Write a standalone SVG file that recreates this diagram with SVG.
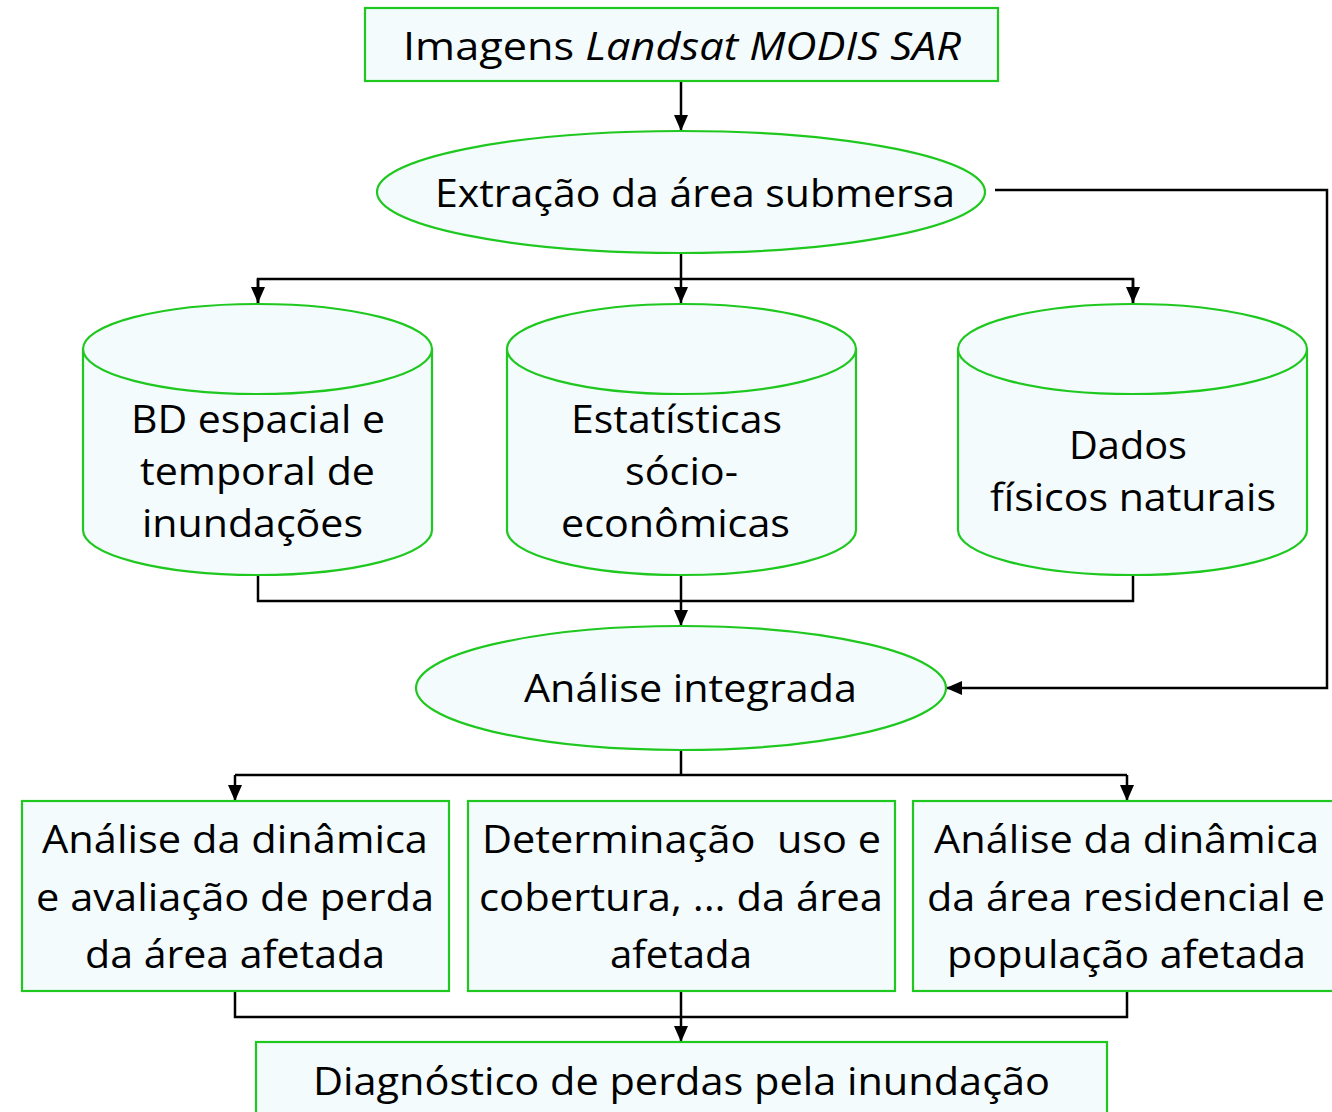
<svg xmlns="http://www.w3.org/2000/svg" width="1332" height="1112" viewBox="0 0 1332 1112">
<style>
.n{fill:#f3fbfd;stroke:#1ec81e;stroke-width:2.2}
.t{font-family:"Open Sans","Noto Sans","Liberation Sans",sans-serif;font-size:39px;fill:#000;text-anchor:middle}
.c{fill:none;stroke:#000;stroke-width:2.5}
</style>
<defs>
<marker id="ah" markerUnits="userSpaceOnUse" markerWidth="16" markerHeight="16" viewBox="0 0 16 16" refX="16" refY="8" orient="auto">
<path d="M0,1 L16,8 L0,15 Z" fill="#000"/>
</marker>
</defs>
<rect width="1332" height="1112" fill="#fff"/>
<g id="connectors">
<path class="c" d="M681,81 V131" marker-end="url(#ah)"/>
<path class="c" d="M995,190 H1327 V688 H946" marker-end="url(#ah)"/>
<path class="c" d="M681,253 V279"/>
<path class="c" d="M258,303 V279 H1133 V303" />
<path class="c" d="M258,279 V303" marker-end="url(#ah)"/>
<path class="c" d="M681,279 V303" marker-end="url(#ah)"/>
<path class="c" d="M1133,279 V303" marker-end="url(#ah)"/>
<path class="c" d="M258,575 V601 H1133 V575"/>
<path class="c" d="M681,575 V626" marker-end="url(#ah)"/>
<path class="c" d="M681,750 V775"/>
<path class="c" d="M235,775 H1127"/>
<path class="c" d="M235,775 V801" marker-end="url(#ah)"/>
<path class="c" d="M1127,775 V801" marker-end="url(#ah)"/>
<path class="c" d="M235,991 V1017 H1127 V991"/>
<path class="c" d="M681,991 V1042" marker-end="url(#ah)"/>
</g>
<g id="imagens">
<rect class="n" x="365" y="8" width="633" height="73"/>
<text class="t" x="682" y="60" textLength="558" lengthAdjust="spacingAndGlyphs">Imagens <tspan font-style="italic">Landsat MODIS SAR</tspan></text>
</g>
<g id="extracao">
<ellipse class="n" cx="681" cy="192" rx="304" ry="61"/>
<text class="t" x="695" y="207" textLength="520" lengthAdjust="spacingAndGlyphs">Extração da área submersa</text>
</g>
<g id="bd">
<path class="n" d="M83,349 V530 A174.5,45 0 0 0 432,530 V349 Z"/>
<ellipse class="n" cx="257.5" cy="349" rx="174.5" ry="45"/>
<text class="t" x="258" y="433" textLength="254" lengthAdjust="spacingAndGlyphs">BD espacial e</text>
<text class="t" x="257.5" y="485" textLength="235" lengthAdjust="spacingAndGlyphs">temporal de</text>
<text class="t" x="252.5" y="537" textLength="221" lengthAdjust="spacingAndGlyphs">inundações</text>
</g>
<g id="estatisticas">
<path class="n" d="M507,349 V530 A174.5,45 0 0 0 856,530 V349 Z"/>
<ellipse class="n" cx="681.5" cy="349" rx="174.5" ry="45"/>
<text class="t" x="676.5" y="433" textLength="211" lengthAdjust="spacingAndGlyphs">Estatísticas</text>
<text class="t" x="681.5" y="485" textLength="113" lengthAdjust="spacingAndGlyphs">sócio-</text>
<text class="t" x="675.5" y="537" textLength="229" lengthAdjust="spacingAndGlyphs">econômicas</text>
</g>
<g id="dados">
<path class="n" d="M958,349 V530 A174.5,45 0 0 0 1307,530 V349 Z"/>
<ellipse class="n" cx="1132.5" cy="349" rx="174.5" ry="45"/>
<text class="t" x="1128" y="459" textLength="118" lengthAdjust="spacingAndGlyphs">Dados</text>
<text class="t" x="1133" y="511" textLength="286" lengthAdjust="spacingAndGlyphs">físicos naturais</text>
</g>
<g id="analise">
<ellipse class="n" cx="681" cy="688" rx="265" ry="62"/>
<text class="t" x="690.5" y="702" textLength="333" lengthAdjust="spacingAndGlyphs">Análise integrada</text>
</g>
<g id="perda">
<rect class="n" x="22" y="801" width="427" height="190"/>
<text class="t" x="235" y="853" textLength="386" lengthAdjust="spacingAndGlyphs">Análise da dinâmica</text>
<text class="t" x="235" y="911" textLength="398" lengthAdjust="spacingAndGlyphs">e avaliação de perda</text>
<text class="t" x="235" y="968" textLength="300" lengthAdjust="spacingAndGlyphs">da área afetada</text>
</g>
<g id="uso">
<rect class="n" x="468" y="801" width="427" height="190"/>
<text class="t" x="681.5" y="853" textLength="399" lengthAdjust="spacingAndGlyphs" xml:space="preserve">Determinação  uso e</text>
<text class="t" x="681" y="911" textLength="404" lengthAdjust="spacingAndGlyphs">cobertura, ... da área</text>
<text class="t" x="681" y="968" textLength="142" lengthAdjust="spacingAndGlyphs">afetada</text>
</g>
<g id="residencial">
<rect class="n" x="913" y="801" width="430" height="190"/>
<text class="t" x="1126.5" y="853" textLength="385" lengthAdjust="spacingAndGlyphs">Análise da dinâmica</text>
<text class="t" x="1126" y="911" textLength="398" lengthAdjust="spacingAndGlyphs">da área residencial e</text>
<text class="t" x="1126.5" y="968" textLength="359" lengthAdjust="spacingAndGlyphs">população afetada</text>
</g>
<g id="diagnostico">
<rect class="n" x="256" y="1042" width="851" height="80"/>
<text class="t" x="681.5" y="1095" textLength="737" lengthAdjust="spacingAndGlyphs">Diagnóstico de perdas pela inundação</text>
</g>
</svg>
